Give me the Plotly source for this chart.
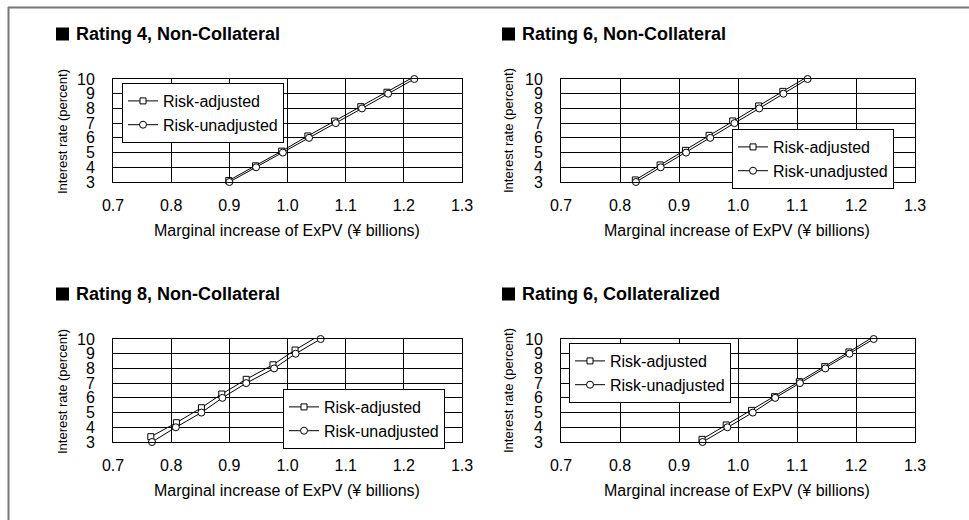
import plotly.graph_objects as go

W, H = 969, 520

# ---------------- data ----------------
titles = ["Rating 4, Non-Collateral", "Rating 6, Non-Collateral",
          "Rating 8, Non-Collateral", "Rating 6, Collateralized"]
series_names = ["Risk-adjusted", "Risk-unadjusted"]

rates = [3, 4, 5, 6, 7, 8, 9, 10]

# Rating 4, Non-Collateral
r4_adj_x = [0.899, 0.945, 0.990, 1.035, 1.081, 1.126, 1.171, 1.216]
r4_adj_y = [3.10, 4.10, 5.10, 6.13, 7.14, 8.12, 9.10, 10.12]
r4_unadj_x = [0.900, 0.946, 0.992, 1.037, 1.083, 1.128, 1.173, 1.218]

# Rating 6, Non-Collateral
r6_adj_x = [0.826, 0.868, 0.911, 0.951, 0.991, 1.035, 1.076, 1.117]
r6_adj_y = [3.14, 4.16, 5.15, 6.17, 7.15, 8.17, 9.16, 10.14]
r6_unadj_x = [0.827, 0.869, 0.912, 0.953, 0.994, 1.036, 1.077, 1.118]

# Rating 8, Non-Collateral
r8_adj_x = [0.765, 0.809, 0.852, 0.887, 0.929, 0.975, 1.013, 1.055]
r8_adj_y = [3.36, 4.31, 5.33, 6.26, 7.26, 8.25, 9.25, 10.25]
r8_unadj_x = [0.767, 0.808, 0.852, 0.888, 0.929, 0.977, 1.014, 1.057]

# Rating 6, Collateralized
r6c_adj_x = [0.939, 0.980, 1.023, 1.062, 1.104, 1.147, 1.188, 1.229]
r6c_adj_y = [3.18, 4.16, 5.15, 6.08, 7.10, 8.12, 9.12, 10.14]
r6c_unadj_x = [0.940, 0.982, 1.025, 1.063, 1.105, 1.148, 1.189, 1.230]

x_ticks = [0.7, 0.8, 0.9, 1.0, 1.1, 1.2, 1.3]
y_ticks = [3, 4, 5, 6, 7, 8, 9, 10]
x_title = "Marginal increase of ExPV (¥ billions)"
y_title = "Interest rate (percent)"

panels = [
    (r4_adj_x, r4_adj_y, r4_unadj_x, rates),
    (r6_adj_x, r6_adj_y, r6_unadj_x, rates),
    (r8_adj_x, r8_adj_y, r8_unadj_x, rates),
    (r6c_adj_x, r6c_adj_y, r6c_unadj_x, rates),
]

# ---------------- layout geometry (pixels) ----------------
FONT = "Liberation Sans, Arial, Helvetica, sans-serif"
plot_boxes = [  # x0, x1, y0(top), y1(bottom)
    (113, 462, 79, 182),
    (561, 915, 79, 182),
    (113, 462, 339, 442),
    (561, 915, 339, 442),
]
legend_pos = [(122, 83), (732, 129), (283, 389), (569, 343)]
title_pos = [(56, 34), (502, 34), (56, 294), (502, 294)]
ytitle_pos = [(62, 131), (508, 131), (62, 391), (508, 391)]
xtitle_pos = [(287, 230), (737, 230), (287, 490), (737, 490)]


def px(x):
    return x / W


def py(y):
    return 1 - y / H


fig = go.Figure()
layout = dict(
    width=W, height=H,
    margin=dict(l=0, r=0, t=0, b=0, autoexpand=False),
    paper_bgcolor="white", plot_bgcolor="white",
    font=dict(family=FONT, size=16, color="black"),
    showlegend=True,
)
annotations = []
shapes = []

for i, (ax_, ay_, ux_, uy_) in enumerate(panels):
    n = "" if i == 0 else str(i + 1)
    leg = "legend" if i == 0 else "legend" + str(i + 1)
    xa, ya = "x" + n, "y" + n
    mk_line = dict(color="black", width=1)
    fig.add_trace(go.Scatter(
        x=ax_, y=ay_, mode="lines+markers", name=series_names[0],
        xaxis=xa, yaxis=ya, legend=leg, cliponaxis=False,
        line=dict(color="black", width=1),
        marker=dict(symbol="square", size=6, color="white", line=mk_line),
    ))
    fig.add_trace(go.Scatter(
        x=ux_, y=uy_, mode="lines+markers", name=series_names[1],
        xaxis=xa, yaxis=ya, legend=leg, cliponaxis=False,
        line=dict(color="black", width=1),
        marker=dict(symbol="circle", size=7, color="white", line=mk_line),
    ))
    x0, x1, y0, y1 = plot_boxes[i]
    layout["xaxis" + n] = dict(
        domain=[px(x0), px(x1)], anchor=ya, range=[0.7, 1.3],
        tickvals=x_ticks, tickformat=".1f", showgrid=True,
        gridcolor="black", gridwidth=1, showline=True, linecolor="black",
        linewidth=1, mirror=True, zeroline=False, ticks="",
        ticklabelstandoff=9, tickfont=dict(size=16, family=FONT),
        fixedrange=True, automargin=False,
    )
    layout["yaxis" + n] = dict(
        domain=[py(y1), py(y0)], anchor=xa, range=[3, 10],
        tickvals=y_ticks, showgrid=True, gridcolor="black", gridwidth=1,
        showline=True, linecolor="black", linewidth=1, mirror=True,
        zeroline=False, ticks="", ticklabelstandoff=14,
        tickfont=dict(size=16, family=FONT), fixedrange=True,
        automargin=False,
    )
    lx, ly = legend_pos[i]
    layout[leg] = dict(
        x=px(lx), y=py(ly), xanchor="left", yanchor="top",
        bgcolor="white", bordercolor="black", borderwidth=1,
        font=dict(size=16, family=FONT), itemwidth=30,
        tracegroupgap=0,
    )
    # panel title with square bullet
    tx, ty = title_pos[i]
    shapes.append(dict(type="rect", xref="paper", yref="paper",
                       x0=px(tx), x1=px(tx + 13), y0=py(ty + 6.5), y1=py(ty - 6.5),
                       fillcolor="black", line=dict(width=0)))
    annotations.append(dict(
        text="<b>" + titles[i] + "</b>", x=px(tx + 18), y=py(ty),
        xref="paper", yref="paper", xanchor="left", yanchor="middle",
        showarrow=False, font=dict(size=18, family=FONT, color="black")))
    yx, yy = ytitle_pos[i]
    annotations.append(dict(
        text=y_title, x=px(yx), y=py(yy), xref="paper", yref="paper",
        xanchor="center", yanchor="middle", textangle=-90, showarrow=False,
        font=dict(size=13, family=FONT, color="black")))
    xx, xy = xtitle_pos[i]
    annotations.append(dict(
        text=x_title, x=px(xx), y=py(xy), xref="paper", yref="paper",
        xanchor="center", yanchor="middle", showarrow=False,
        font=dict(size=16, family=FONT, color="black")))

# outer frame (top and left edges)
shapes.append(dict(type="line", xref="paper", yref="paper",
                   x0=px(8), x1=1, y0=py(7.5), y1=py(7.5),
                   line=dict(color="#777777", width=2)))
shapes.append(dict(type="line", xref="paper", yref="paper",
                   x0=px(8.5), x1=px(8.5), y0=py(7), y1=0,
                   line=dict(color="#777777", width=2)))

layout["annotations"] = annotations
layout["shapes"] = shapes
fig.update_layout(**layout)
fig.write_html("out.html")
